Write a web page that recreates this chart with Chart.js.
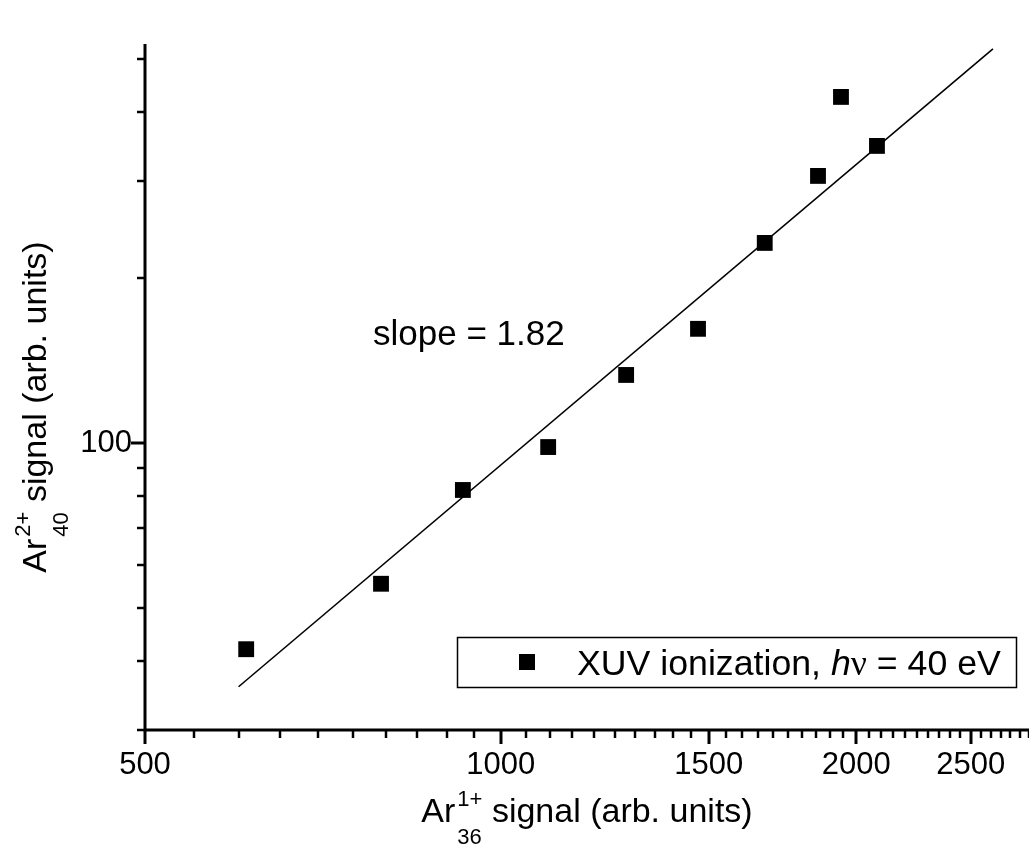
<!DOCTYPE html>
<html>
<head>
<meta charset="utf-8">
<title>Ar2+ vs Ar1+ signal</title>
<script src="https://cdn.jsdelivr.net/npm/chart.js@4.4.1/dist/chart.umd.min.js"></script>
<style>
  html, body { margin: 0; padding: 0; background: #fff; }
  #wrap { width: 1029px; height: 854px; position: relative; }
</style>
</head>
<body>
<div id="wrap"><canvas id="c"></canvas></div>
<script>
// Measured signals (arb. units)
const ar36Signal = [609, 792, 929, 1097, 1277, 1469, 1673, 1856, 1941, 2082];
const ar40Signal = [42.1, 55.4, 82.1, 98.3, 133.0, 161.4, 231.4, 306.5, 426.9, 347.6];

// Power-law fit: y = anchorY * (x / anchorX) ^ slope
const fitSlope = 1.82;
const fitAnchor = [1300, 146.9];
const fitRange = [600, 2610];

// Axis ranges and tick values
const xRange = [500, 2800];
const yRange = [30, 533];
const xTickLabels = [500, 1000, 1500, 2000, 2500];
const xMinorStep = 50;
const yTickLabels = [100];
const yMinorTicks = [30, 40, 50, 60, 70, 80, 90, 200, 300, 400, 500];

const xAllTicks = [];
for (let v = xRange[0]; v <= xRange[1]; v += xMinorStep) xAllTicks.push(v);
const yAllTicks = [...yMinorTicks, ...yTickLabels].sort((a, b) => a - b);

const SANS = '"Liberation Sans", Arial, sans-serif';
const TITLE_PX = 34;
const SCRIPT_PX = 22;
const TEXT_PX = 35;
const LEGEND_PX = 35.7;
const TICK_PX = 31;

const points = ar36Signal.map((x, i) => ({ x, y: ar40Signal[i] }));
const fitLine = fitRange.map(x => ({ x, y: fitAnchor[1] * Math.pow(x / fitAnchor[0], fitSlope) }));

// Draws "Ar" with stacked superscript/subscript followed by the rest of the title
function drawIsotopeTitle(ctx, x, y, sup, sub, rest) {
  ctx.textBaseline = 'alphabetic';
  ctx.textAlign = 'left';
  ctx.font = TITLE_PX + 'px ' + SANS;
  ctx.fillText('Ar', x, y);
  let cx = x + ctx.measureText('Ar').width + 2;
  ctx.font = SCRIPT_PX + 'px ' + SANS;
  const w = Math.max(ctx.measureText(sup).width, ctx.measureText(sub).width);
  ctx.fillText(sup, cx, y - 16);
  ctx.fillText(sub, cx, y + 22);
  cx += w;
  ctx.font = TITLE_PX + 'px ' + SANS;
  ctx.fillText(rest, cx, y);
}
function isotopeTitleWidth(ctx, sup, sub, rest) {
  ctx.font = TITLE_PX + 'px ' + SANS;
  let w = ctx.measureText('Ar').width + 2 + ctx.measureText(rest).width;
  ctx.font = SCRIPT_PX + 'px ' + SANS;
  w += Math.max(ctx.measureText(sup).width, ctx.measureText(sub).width);
  return w;
}

// Axis lines with long major and short minor tick marks pointing outward
const frame = {
  id: 'frame',
  beforeDatasetsDraw(chart) {
    const { ctx, chartArea: a, scales: { x, y } } = chart;
    ctx.save();
    ctx.strokeStyle = '#000';
    ctx.lineCap = 'butt';
    ctx.lineWidth = 3;
    ctx.beginPath();
    ctx.moveTo(a.left, a.top);
    ctx.lineTo(a.left, a.bottom);
    ctx.lineTo(a.right, a.bottom);
    ctx.stroke();
    xAllTicks.forEach(v => {
      const major = xTickLabels.includes(v);
      const px = Math.round(x.getPixelForValue(v));
      ctx.lineWidth = major ? 3 : 2.5;
      ctx.beginPath();
      ctx.moveTo(px, a.bottom);
      ctx.lineTo(px, a.bottom + (major ? 14 : 8));
      ctx.stroke();
    });
    yAllTicks.forEach(v => {
      const major = yTickLabels.includes(v);
      const py = Math.round(y.getPixelForValue(v));
      ctx.lineWidth = major ? 3 : 2.5;
      ctx.beginPath();
      ctx.moveTo(a.left, py);
      ctx.lineTo(a.left - (major ? 14 : 8), py);
      ctx.stroke();
    });
    ctx.restore();
  }
};

// Axis titles, slope annotation and framed legend
const annotations = {
  id: 'annotations',
  afterDraw(chart) {
    const { ctx } = chart;
    ctx.save();
    ctx.fillStyle = '#000';

    // x-axis title
    const xw = isotopeTitleWidth(ctx, '1+', '36', ' signal (arb. units)');
    drawIsotopeTitle(ctx, 587 - xw / 2, 822, '1+', '36', ' signal (arb. units)');

    // y-axis title (rotated)
    const yw = isotopeTitleWidth(ctx, '2+', '40', ' signal (arb. units)');
    ctx.save();
    ctx.translate(46, 407 + yw / 2);
    ctx.rotate(-Math.PI / 2);
    drawIsotopeTitle(ctx, 0, 0, '2+', '40', ' signal (arb. units)');
    ctx.restore();

    // slope label
    ctx.font = TEXT_PX + 'px ' + SANS;
    ctx.textAlign = 'left';
    ctx.textBaseline = 'alphabetic';
    ctx.fillText('slope = ' + fitSlope.toFixed(2), 373, 345);

    // legend box
    ctx.lineWidth = 1.5;
    ctx.strokeStyle = '#000';
    ctx.strokeRect(457.5, 637.5, 559, 50);
    ctx.fillRect(519, 654, 16, 16);
    let tx = 577;
    const by = 675;
    const parts = [
      ['XUV ionization, ', LEGEND_PX + 'px ' + SANS],
      ['h', 'italic ' + LEGEND_PX + 'px ' + SANS],
      ['\u03BD', LEGEND_PX + 'px "Liberation Serif", "Times New Roman", serif'],
      [' = 40 eV', LEGEND_PX + 'px ' + SANS]
    ];
    parts.forEach(([t, f]) => {
      ctx.font = f;
      ctx.fillText(t, tx, by);
      tx += ctx.measureText(t).width;
    });
    ctx.restore();
  }
};

new Chart(document.getElementById('c'), {
  data: {
    datasets: [
      {
        type: 'scatter',
        label: 'XUV ionization, h\u03BD = 40 eV',
        data: points,
        pointStyle: 'rect',
        pointRadius: 11.2,
        pointHoverRadius: 11.2,
        backgroundColor: '#000',
        borderColor: '#000',
        borderWidth: 0
      },
      {
        type: 'line',
        label: 'fit',
        data: fitLine,
        borderColor: '#000',
        borderWidth: 1.6,
        pointRadius: 0,
        fill: false
      }
    ]
  },
  options: {
    responsive: true,
    maintainAspectRatio: false,
    animation: false,
    events: [],
    layout: { autoPadding: false, padding: { top: 44, right: 0, left: 0, bottom: 0 } },
    plugins: { legend: { display: false }, tooltip: { enabled: false } },
    scales: {
      x: {
        type: 'logarithmic',
        min: xRange[0],
        max: xRange[1],
        grid: { display: false, tickLength: 17 },
        border: { display: false },
        afterFit: s => { s.height = 124; },
        afterBuildTicks: s => { s.ticks = xAllTicks.map(v => ({ value: v })); },
        ticks: {
          autoSkip: false,
          maxRotation: 0,
          padding: 0,
          color: '#000',
          font: { family: SANS, size: TICK_PX },
          callback: v => xTickLabels.includes(v) ? String(v) : ''
        }
      },
      y: {
        type: 'logarithmic',
        min: yRange[0],
        max: yRange[1],
        grid: { display: false, tickLength: 13 },
        border: { display: false },
        afterFit: s => { s.width = 145; },
        afterBuildTicks: s => { s.ticks = yAllTicks.map(v => ({ value: v })); },
        ticks: {
          autoSkip: false,
          padding: 0,
          color: '#000',
          font: { family: SANS, size: TICK_PX },
          callback: v => yTickLabels.includes(v) ? String(v) : ''
        }
      }
    }
  },
  plugins: [frame, annotations]
});
</script>
</body>
</html>
